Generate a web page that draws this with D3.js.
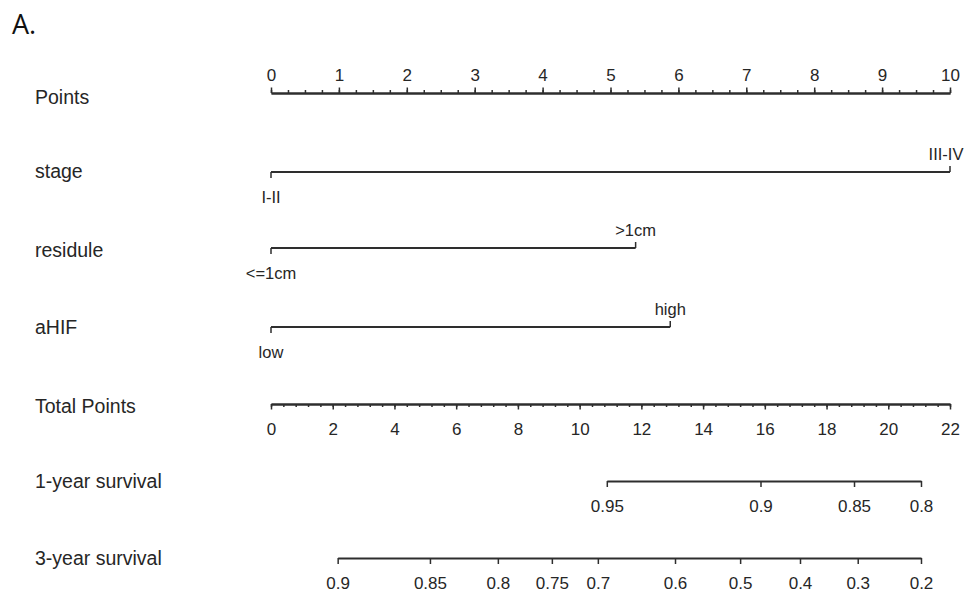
<!DOCTYPE html>
<html>
<head>
<meta charset="utf-8">
<script src="https://cdn.jsdelivr.net/npm/d3@7"></script>
<style>
  body { margin: 0; background: #fff; }
  text { font-family: "Liberation Sans", Arial, sans-serif; fill: #262626; }
</style>
</head>
<body>
<div id="chart"></div>
<script>
// nomogram data
const pointsTicks = [0, 1, 2, 3, 4, 5, 6, 7, 8, 9, 10];
const totalTicks = [0, 2, 4, 6, 8, 10, 12, 14, 16, 18, 20, 22];

const varNames = ['stage', 'residule', 'aHIF'];
const varLevels = [['I-II', 'III-IV'], ['<=1cm', '>1cm'], ['low', 'high']];
const varPoints = [[0, 10], [0, 5.37], [0, 5.88]];

const surv1Labels = [0.95, 0.9, 0.85, 0.8];
const surv1Points = [10.88, 15.86, 18.89, 21.06];
const surv3Labels = [0.9, 0.85, 0.8, 0.75, 0.7, 0.6, 0.5, 0.4, 0.3, 0.2];
const surv3Points = [2.16, 5.15, 7.35, 9.10, 10.59, 13.09, 15.20, 17.14, 19.01, 21.06];

const width = 965;
const height = 592;
const x0 = 271, x1 = 950;
const stroke = '#2e2e2e';

// row layout (axis line y, label baseline y)
const rowY = { points: 93, stage: 172, residule: 248, aHIF: 327, total: 404, surv1: 481, surv3: 558 };
const labelY = { points: 104, stage: 178, residule: 257, aHIF: 334, total: 413, surv1: 488, surv3: 565 };

const svg = d3.select('#chart')
    .append('svg')
    .attr('width', width)
    .attr('height', height);

const pointsScale = d3.scaleLinear().domain([0, 10]).range([x0, x1]);
const totalScale = d3.scaleLinear().domain([0, 22]).range([x0, x1]);

svg.append('text')
    .attr('x', 12)
    .attr('y', 34)
    .style('font-family', '"Open Sans", sans-serif')
    .style('font-size', '27px')
    .style('fill', '#111')
    .text('A.');

// row labels
const rowLabels = [
    ['Points', 'points'], ['stage', 'stage'], ['residule', 'residule'], ['aHIF', 'aHIF'],
    ['Total Points', 'total'], ['1-year survival', 'surv1'], ['3-year survival', 'surv3']
];
svg.append('g')
    .selectAll('text')
    .data(rowLabels)
    .join('text')
    .attr('x', 35)
    .attr('y', d => labelY[d[1]])
    .style('font-size', '19.5px')
    .text(d => d[0]);

function styleAxis(g, fontSize) {
    g.select('.domain').attr('stroke', stroke).attr('stroke-width', 1.8);
    g.selectAll('.tick line').attr('stroke', stroke).attr('stroke-width', 1.5);
    g.selectAll('.tick text')
        .style('font-size', fontSize)
        .style('font-family', '"Liberation Sans", Arial, sans-serif')
        .attr('fill', '#262626');
}

// Points axis (ticks up)
svg.append('g')
    .attr('transform', `translate(0,${rowY.points})`)
    .call(d3.axisTop(pointsScale).tickValues(d3.range(0, 10.001, 0.25)).tickSize(3).tickSizeOuter(0).tickFormat(''))
    .call(g => styleAxis(g, '16px'));
svg.append('g')
    .attr('transform', `translate(0,${rowY.points})`)
    .call(d3.axisTop(pointsScale).tickValues(pointsTicks).tickSize(5.5).tickPadding(7).tickSizeOuter(0).tickFormat(d3.format('d')))
    .call(g => styleAxis(g, '17px'));

// variable rows
varNames.forEach((name, i) => {
    const y = rowY[name];
    const pts = varPoints[i];
    const g = svg.append('g');
    g.append('line')
        .attr('x1', pointsScale(d3.min(pts)))
        .attr('x2', pointsScale(d3.max(pts)))
        .attr('y1', y).attr('y2', y)
        .attr('stroke', stroke)
        .attr('stroke-width', 1.8);
    const lv = pts.map((p, j) => ({ p, label: varLevels[i][j], below: j % 2 === 0 }));
    g.selectAll('line.tk')
        .data(lv)
        .join('line')
        .attr('class', 'tk')
        .attr('x1', d => pointsScale(d.p))
        .attr('x2', d => pointsScale(d.p))
        .attr('y1', y)
        .attr('y2', d => d.below ? y + 6 : y - 6)
        .attr('stroke', stroke)
        .attr('stroke-width', 1.5);
    g.selectAll('text')
        .data(lv)
        .join('text')
        .attr('x', d => Math.min(pointsScale(d.p), width - 19))
        .attr('y', d => d.below ? y + 31 : y - 12)
        .attr('text-anchor', 'middle')
        .style('font-size', '16.5px')
        .text(d => d.label);
});

// Total Points axis (ticks down)
svg.append('g')
    .attr('transform', `translate(0,${rowY.total})`)
    .call(d3.axisBottom(totalScale).tickValues(d3.range(0, 22.001, 0.4)).tickSize(3).tickSizeOuter(0).tickFormat(''))
    .call(g => styleAxis(g, '16px'));
svg.append('g')
    .attr('transform', `translate(0,${rowY.total})`)
    .call(d3.axisBottom(totalScale).tickValues(totalTicks).tickSize(5.5).tickPadding(13.5).tickSizeOuter(0).tickFormat(d3.format('d')))
    .call(g => styleAxis(g, '17px'));

// survival axes: probability -> position on total points
function survAxis(labels, pts, y) {
    const sc = d3.scaleLinear()
        .domain(labels)
        .range(pts.map(p => totalScale(p)));
    svg.append('g')
        .attr('transform', `translate(0,${y})`)
        .call(d3.axisBottom(sc).tickValues(labels).tickSize(6).tickPadding(13).tickSizeOuter(0).tickFormat(d => String(d)))
        .call(g => styleAxis(g, '17px'));
}
survAxis(surv1Labels, surv1Points, rowY.surv1);
survAxis(surv3Labels, surv3Points, rowY.surv3);
</script>
</body>
</html>
